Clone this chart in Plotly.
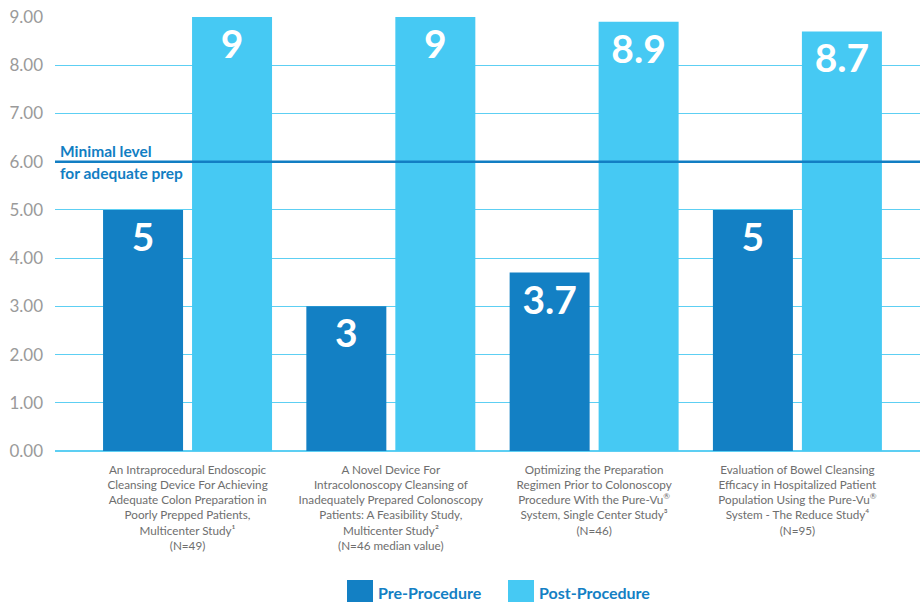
import plotly.graph_objects as go

studies = [
    "An Intraprocedural Endoscopic<br>Cleansing Device For Achieving<br>Adequate Colon Preparation in<br>Poorly Prepped Patients,<br>Multicenter Study¹<br>(N=49)",
    "A Novel Device For<br>Intracolonoscopy Cleansing of<br>Inadequately Prepared Colonoscopy<br>Patients: A Feasibility Study,<br>Multicenter Study²<br>(N=46 median value)",
    "Optimizing the Preparation<br>Regimen Prior to Colonoscopy<br>Procedure With the Pure-Vu<sup style='font-size:7px'>®</sup><br>System, Single Center Study³<br>(N=46)",
    "Evaluation of Bowel Cleansing<br>Efficacy in Hospitalized Patient<br>Population Using the Pure-Vu<sup style='font-size:7px'>®</sup><br>System - The Reduce Study⁴<br>(N=95)",
]
series_names = ["Pre-Procedure", "Post-Procedure"]
pre_values = [5, 3, 3.7, 5]
post_values = [9, 9, 8.9, 8.7]
pre_labels = ["5", "3", "3.7", "5"]
post_labels = ["9", "9", "8.9", "8.7"]
y_ticks = [0, 1, 2, 3, 4, 5, 6, 7, 8, 9]
threshold = 6

PRE = "#1380c4"
POST = "#46c9f3"
GRID = "#5dcff3"
LINE = "#127ec3"
FONT = "Lato"

xpos = list(range(len(studies)))

fig = go.Figure()
for name, vals, labels, col in [(series_names[0], pre_values, pre_labels, PRE),
                                (series_names[1], post_values, post_labels, POST)]:
    fig.add_trace(go.Bar(
        x=xpos, y=vals, name=name, marker_color=col, marker_line_width=0,
        text=labels, textposition="inside", insidetextanchor="end",
        textfont=dict(family=FONT, size=39, color="white", weight="bold"),
        textangle=0, showlegend=False, hoverinfo="skip",
    ))

fig.add_shape(type="line", xref="paper", x0=0, x1=1, yref="y", y0=threshold, y1=threshold,
              line=dict(color=LINE, width=2.5), layer="above")
fig.add_annotation(xref="paper", x=0.003, xanchor="left", yref="y", y=threshold, yanchor="bottom",
                   yshift=0, text="<b>Minimal level</b>", showarrow=False,
                   font=dict(family=FONT, size=15.5, color=LINE))
fig.add_annotation(xref="paper", x=0.003, xanchor="left", yref="y", y=threshold, yanchor="top",
                   yshift=0, text="<b>for adequate prep</b>", showarrow=False,
                   font=dict(family=FONT, size=15.5, color=LINE))

# custom legend (square swatches)
legend_items = [(series_names[0], PRE, 347), (series_names[1], POST, 508)]
for name, col, px in legend_items:
    fig.add_shape(type="rect", xref="paper", yref="paper",
                  x0=(px - 55) / 865, x1=(px + 26 - 55) / 865,
                  y0=(451 - 602) / 434, y1=(451 - 580) / 434,
                  fillcolor=col, line_width=0)
    fig.add_annotation(xref="paper", yref="paper", x=(px + 29 - 55) / 865, xanchor="left",
                       y=(451 - 592) / 434, yanchor="middle", text="<b>%s</b>" % name,
                       showarrow=False, font=dict(family=FONT, size=16, color=PRE))

fig.update_layout(
    width=920, height=602,
    margin=dict(l=55, r=0, t=17, b=151, autoexpand=False),
    paper_bgcolor="white", plot_bgcolor="white",
    barmode="group", bargap=0.1245, bargroupgap=0.101,
    showlegend=False,
    font=dict(family=FONT),
)
fig.update_xaxes(
    tickmode="array", tickvals=xpos, ticktext=studies,
    range=[-0.652, 3.603], showgrid=False, zeroline=False, showline=False,
    tickfont=dict(family=FONT, size=11.7, color="#6e6e6e"), ticks="",
    tickangle=0, automargin=False, ticklabelstandoff=10,
)
fig.update_yaxes(
    range=[0, 9], tickmode="array", tickvals=y_ticks, tickformat=".2f",
    showgrid=True, gridcolor=GRID, gridwidth=1.2, zeroline=True, zerolinecolor=GRID, zerolinewidth=2,
    showline=False, tickfont=dict(family=FONT, size=17, color="#9a9a9a"), ticks="",
    automargin=False, ticklabelstandoff=11,
)

fig.write_html("out.html", config={"displayModeBar": False},
               post_script="document.body.style.margin='0';document.body.style.overflow='hidden';")
